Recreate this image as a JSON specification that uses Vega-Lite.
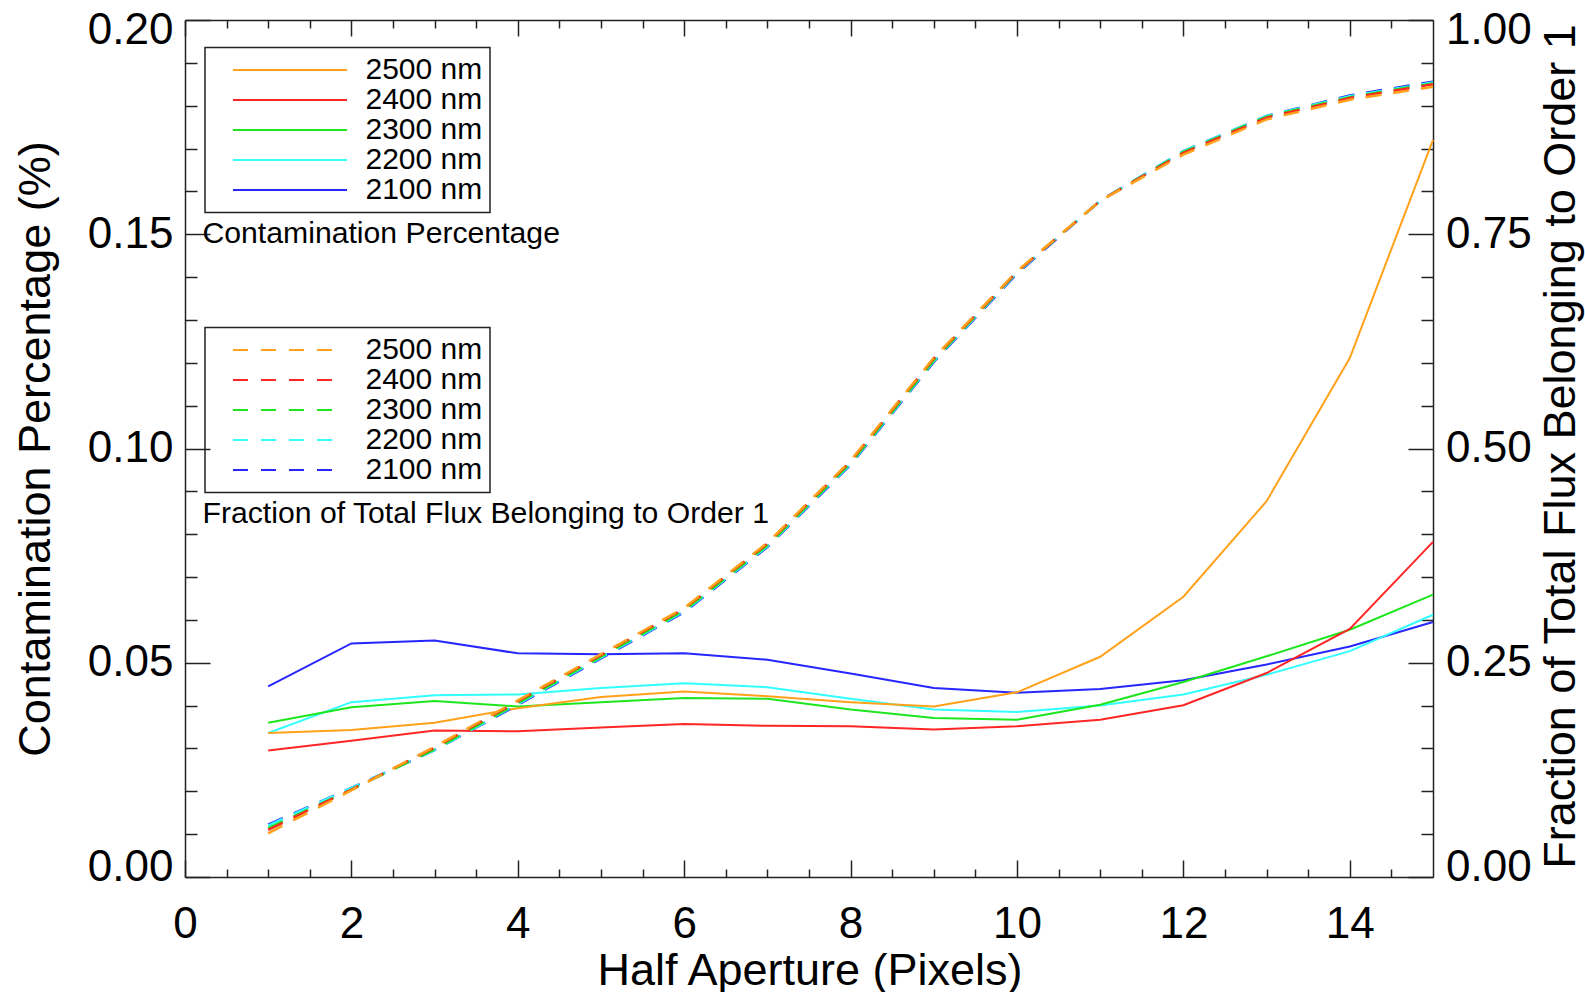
{
  "$schema": "https://vega.github.io/schema/vega-lite/v6.json",
  "width": 1248,
  "height": 857,
  "autosize": {"type": "none"},
  "padding": {"left": 185, "top": 20, "right": 152, "bottom": 115},
  "background": "white",
  "config": {
    "view": {"stroke": null},
    "axis": {
      "grid": false,
      "domainColor": "#222",
      "domainWidth": 1.5,
      "tickColor": "#222",
      "tickWidth": 1.5,
      "labelFont": "Liberation Sans",
      "titleFont": "Liberation Sans",
      "labelColor": "#000",
      "titleColor": "#000",
      "titleFontWeight": "normal",
      "labelFontSize": 44,
      "titleFontSize": 45,
      "labelOverlap": false
    },
    "legend": {"strokeWidth": 1.5}
  },
  "data": {
    "values": [
      {"aperture": 1, "wavelength": "2100 nm", "contamination": 0.0445, "fraction": 0.061},
      {"aperture": 2, "wavelength": "2100 nm", "contamination": 0.0545, "fraction": 0.104},
      {"aperture": 3, "wavelength": "2100 nm", "contamination": 0.0552, "fraction": 0.148},
      {"aperture": 4, "wavelength": "2100 nm", "contamination": 0.0522, "fraction": 0.201},
      {"aperture": 5, "wavelength": "2100 nm", "contamination": 0.0520, "fraction": 0.255},
      {"aperture": 6, "wavelength": "2100 nm", "contamination": 0.0522, "fraction": 0.309},
      {"aperture": 7, "wavelength": "2100 nm", "contamination": 0.0507, "fraction": 0.385},
      {"aperture": 8, "wavelength": "2100 nm", "contamination": 0.0475, "fraction": 0.481},
      {"aperture": 9, "wavelength": "2100 nm", "contamination": 0.0441, "fraction": 0.601},
      {"aperture": 10, "wavelength": "2100 nm", "contamination": 0.0430, "fraction": 0.704},
      {"aperture": 11, "wavelength": "2100 nm", "contamination": 0.0439, "fraction": 0.789},
      {"aperture": 12, "wavelength": "2100 nm", "contamination": 0.0459, "fraction": 0.847},
      {"aperture": 13, "wavelength": "2100 nm", "contamination": 0.0496, "fraction": 0.888},
      {"aperture": 14, "wavelength": "2100 nm", "contamination": 0.0538, "fraction": 0.912},
      {"aperture": 15, "wavelength": "2100 nm", "contamination": 0.0595, "fraction": 0.928},
      {"aperture": 1, "wavelength": "2200 nm", "contamination": 0.0336, "fraction": 0.060},
      {"aperture": 2, "wavelength": "2200 nm", "contamination": 0.0408, "fraction": 0.104},
      {"aperture": 3, "wavelength": "2200 nm", "contamination": 0.0424, "fraction": 0.148},
      {"aperture": 4, "wavelength": "2200 nm", "contamination": 0.0426, "fraction": 0.202},
      {"aperture": 5, "wavelength": "2200 nm", "contamination": 0.0441, "fraction": 0.256},
      {"aperture": 6, "wavelength": "2200 nm", "contamination": 0.0452, "fraction": 0.310},
      {"aperture": 7, "wavelength": "2200 nm", "contamination": 0.0443, "fraction": 0.386},
      {"aperture": 8, "wavelength": "2200 nm", "contamination": 0.0416, "fraction": 0.482},
      {"aperture": 9, "wavelength": "2200 nm", "contamination": 0.0391, "fraction": 0.602},
      {"aperture": 10, "wavelength": "2200 nm", "contamination": 0.0385, "fraction": 0.705},
      {"aperture": 11, "wavelength": "2200 nm", "contamination": 0.0400, "fraction": 0.789},
      {"aperture": 12, "wavelength": "2200 nm", "contamination": 0.0426, "fraction": 0.847},
      {"aperture": 13, "wavelength": "2200 nm", "contamination": 0.0472, "fraction": 0.888},
      {"aperture": 14, "wavelength": "2200 nm", "contamination": 0.0527, "fraction": 0.911},
      {"aperture": 15, "wavelength": "2200 nm", "contamination": 0.0612, "fraction": 0.927},
      {"aperture": 1, "wavelength": "2300 nm", "contamination": 0.0360, "fraction": 0.057},
      {"aperture": 2, "wavelength": "2300 nm", "contamination": 0.0396, "fraction": 0.102},
      {"aperture": 3, "wavelength": "2300 nm", "contamination": 0.0411, "fraction": 0.149},
      {"aperture": 4, "wavelength": "2300 nm", "contamination": 0.0398, "fraction": 0.203},
      {"aperture": 5, "wavelength": "2300 nm", "contamination": 0.0408, "fraction": 0.257},
      {"aperture": 6, "wavelength": "2300 nm", "contamination": 0.0418, "fraction": 0.311},
      {"aperture": 7, "wavelength": "2300 nm", "contamination": 0.0416, "fraction": 0.387},
      {"aperture": 8, "wavelength": "2300 nm", "contamination": 0.0391, "fraction": 0.483},
      {"aperture": 9, "wavelength": "2300 nm", "contamination": 0.0371, "fraction": 0.603},
      {"aperture": 10, "wavelength": "2300 nm", "contamination": 0.0367, "fraction": 0.706},
      {"aperture": 11, "wavelength": "2300 nm", "contamination": 0.0402, "fraction": 0.789},
      {"aperture": 12, "wavelength": "2300 nm", "contamination": 0.0455, "fraction": 0.846},
      {"aperture": 13, "wavelength": "2300 nm", "contamination": 0.0515, "fraction": 0.887},
      {"aperture": 14, "wavelength": "2300 nm", "contamination": 0.0577, "fraction": 0.910},
      {"aperture": 15, "wavelength": "2300 nm", "contamination": 0.0659, "fraction": 0.926},
      {"aperture": 1, "wavelength": "2400 nm", "contamination": 0.0295, "fraction": 0.055},
      {"aperture": 2, "wavelength": "2400 nm", "contamination": 0.0318, "fraction": 0.102},
      {"aperture": 3, "wavelength": "2400 nm", "contamination": 0.0342, "fraction": 0.151},
      {"aperture": 4, "wavelength": "2400 nm", "contamination": 0.0340, "fraction": 0.205},
      {"aperture": 5, "wavelength": "2400 nm", "contamination": 0.0349, "fraction": 0.259},
      {"aperture": 6, "wavelength": "2400 nm", "contamination": 0.0357, "fraction": 0.313},
      {"aperture": 7, "wavelength": "2400 nm", "contamination": 0.0353, "fraction": 0.389},
      {"aperture": 8, "wavelength": "2400 nm", "contamination": 0.0352, "fraction": 0.485},
      {"aperture": 9, "wavelength": "2400 nm", "contamination": 0.0344, "fraction": 0.605},
      {"aperture": 10, "wavelength": "2400 nm", "contamination": 0.0352, "fraction": 0.706},
      {"aperture": 11, "wavelength": "2400 nm", "contamination": 0.0367, "fraction": 0.789},
      {"aperture": 12, "wavelength": "2400 nm", "contamination": 0.0401, "fraction": 0.845},
      {"aperture": 13, "wavelength": "2400 nm", "contamination": 0.0476, "fraction": 0.886},
      {"aperture": 14, "wavelength": "2400 nm", "contamination": 0.0579, "fraction": 0.909},
      {"aperture": 15, "wavelength": "2400 nm", "contamination": 0.0782, "fraction": 0.925},
      {"aperture": 1, "wavelength": "2500 nm", "contamination": 0.0336, "fraction": 0.051},
      {"aperture": 2, "wavelength": "2500 nm", "contamination": 0.0343, "fraction": 0.101},
      {"aperture": 3, "wavelength": "2500 nm", "contamination": 0.0360, "fraction": 0.152},
      {"aperture": 4, "wavelength": "2500 nm", "contamination": 0.0394, "fraction": 0.206},
      {"aperture": 5, "wavelength": "2500 nm", "contamination": 0.0420, "fraction": 0.260},
      {"aperture": 6, "wavelength": "2500 nm", "contamination": 0.0433, "fraction": 0.314},
      {"aperture": 7, "wavelength": "2500 nm", "contamination": 0.0422, "fraction": 0.390},
      {"aperture": 8, "wavelength": "2500 nm", "contamination": 0.0408, "fraction": 0.486},
      {"aperture": 9, "wavelength": "2500 nm", "contamination": 0.0398, "fraction": 0.606},
      {"aperture": 10, "wavelength": "2500 nm", "contamination": 0.0431, "fraction": 0.707},
      {"aperture": 11, "wavelength": "2500 nm", "contamination": 0.0514, "fraction": 0.789},
      {"aperture": 12, "wavelength": "2500 nm", "contamination": 0.0654, "fraction": 0.843},
      {"aperture": 13, "wavelength": "2500 nm", "contamination": 0.0877, "fraction": 0.884},
      {"aperture": 14, "wavelength": "2500 nm", "contamination": 0.1211, "fraction": 0.907},
      {"aperture": 15, "wavelength": "2500 nm", "contamination": 0.1720, "fraction": 0.922}
    ]
  },
  "layer": [
    {
      "mark": {"type": "line", "strokeWidth": 2},
      "encoding": {
        "x": {
          "field": "aperture", "type": "quantitative",
          "scale": {"domain": [0, 15], "nice": false, "zero": false},
          "axis": {
            "orient": "bottom",
            "values": [0, 2, 4, 6, 8, 10, 12, 14],
            "format": "d",
            "tickSize": -17,
            "labelPadding": 77,
            "labelBaseline": "alphabetic",
            "labelAlign": "center",
            "labelFlush": false,
            "title": "Half Aperture (Pixels)",
            "titleX": 624.5,
            "titleY": 107,
            "titleAlign": "center",
            "titleBaseline": "alphabetic",
            "titleAngle": 0
          }
        },
        "y": {
          "field": "contamination", "type": "quantitative",
          "scale": {"domain": [0, 0.2], "nice": false, "zero": false},
          "axis": {
            "orient": "left",
            "values": [0, 0.05, 0.1, 0.15, 0.2],
            "format": ".2f",
            "tickSize": -25,
            "labelPadding": 37,
            "labelAlign": "right",
            "labelFlush": true,
            "labelFlushOffset": 12,
            "title": "Contamination Percentage (%)",
            "titleX": -150,
            "titleY": 428.5,
            "titleAngle": 270,
            "titleAlign": "center",
            "titleBaseline": "middle"
          }
        },
        "color": {
          "field": "wavelength", "type": "nominal",
          "scale": {
            "domain": ["2500 nm", "2400 nm", "2300 nm", "2200 nm", "2100 nm"],
            "range": ["#FFA11A", "#FF2626", "#1EE61E", "#33FFFF", "#2626FF"]
          },
          "legend": {
            "orient": "none",
            "legendX": 20,
            "legendY": 27.5,
            "title": null,
            "strokeColor": "#222",
            "padding": 7.5,
            "symbolType": "M0,0H20",
            "symbolSize": 130,
            "symbolStrokeWidth": 2,
            "symbolOffset": 5.5,
            "labelOffset": 117.5,
            "labelFont": "Liberation Sans",
            "labelFontSize": 30,
            "labelColor": "#000",
            "rowPadding": -1.2
          }
        }
      }
    },
    {
      "mark": {"type": "line", "strokeWidth": 2.5, "strokeDash": [16, 12]},
      "encoding": {
        "x": {
          "field": "aperture", "type": "quantitative",
          "scale": {"domain": [0, 15], "nice": false, "zero": false},
          "axis": {
            "orient": "top",
            "values": [0, 2, 4, 6, 8, 10, 12, 14],
            "tickSize": -16,
            "labels": false,
            "title": null
          }
        },
        "y": {
          "field": "fraction", "type": "quantitative",
          "scale": {"domain": [0, 1], "nice": false, "zero": false},
          "axis": {
            "orient": "right",
            "values": [0, 0.25, 0.5, 0.75, 1],
            "format": ".2f",
            "tickSize": -25,
            "labelPadding": 37.5,
            "labelAlign": "left",
            "labelFlush": true,
            "labelFlushOffset": 12,
            "title": "Fraction of Total Flux Belonging to Order 1",
            "titleX": 127,
            "titleY": 426,
            "titleAngle": 270,
            "titleAlign": "center",
            "titleBaseline": "middle"
          }
        },
        "color": {
          "field": "wavelength", "type": "nominal",
          "scale": {
            "domain": ["2500 nm", "2400 nm", "2300 nm", "2200 nm", "2100 nm"],
            "range": ["#FFA11A", "#FF2626", "#1EE61E", "#33FFFF", "#2626FF"]
          },
          "legend": {
            "orient": "none",
            "legendX": 20,
            "legendY": 307.5,
            "title": null,
            "strokeColor": "#222",
            "padding": 7.5,
            "symbolType": "M0,0H20",
            "symbolSize": 98,
            "symbolStrokeWidth": 2,
            "symbolDash": [15, 13],
            "symbolOffset": 5.5,
            "labelOffset": 117.5,
            "labelFont": "Liberation Sans",
            "labelFontSize": 30,
            "labelColor": "#000",
            "rowPadding": -1.2
          }
        }
      }
    },
    {
      "mark": {"type": "line", "opacity": 0},
      "encoding": {
        "x": {
          "field": "aperture", "type": "quantitative",
          "scale": {"domain": [0, 15], "nice": false, "zero": false},
          "axis": {
            "orient": "bottom",
            "values": [0.5, 1, 1.5, 2.5, 3, 3.5, 4.5, 5, 5.5, 6.5, 7, 7.5, 8.5, 9, 9.5, 10.5, 11, 11.5, 12.5, 13, 13.5, 14.5],
            "tickSize": -8,
            "labels": false,
            "domain": false,
            "title": null
          }
        },
        "y": {
          "field": "contamination", "type": "quantitative",
          "scale": {"domain": [0, 0.2], "nice": false, "zero": false},
          "axis": {
            "orient": "left",
            "values": [0.01, 0.02, 0.03, 0.04, 0.06, 0.07, 0.08, 0.09, 0.11, 0.12, 0.13, 0.14, 0.16, 0.17, 0.18, 0.19],
            "tickSize": -12,
            "labels": false,
            "domain": false,
            "title": null
          }
        },
        "detail": {"field": "wavelength", "type": "nominal"}
      }
    },
    {
      "mark": {"type": "line", "opacity": 0},
      "encoding": {
        "x": {
          "field": "aperture", "type": "quantitative",
          "scale": {"domain": [0, 15], "nice": false, "zero": false},
          "axis": {
            "orient": "top",
            "values": [0.5, 1, 1.5, 2.5, 3, 3.5, 4.5, 5, 5.5, 6.5, 7, 7.5, 8.5, 9, 9.5, 10.5, 11, 11.5, 12.5, 13, 13.5, 14.5],
            "tickSize": -8,
            "labels": false,
            "domain": false,
            "title": null
          }
        },
        "y": {
          "field": "fraction", "type": "quantitative",
          "scale": {"domain": [0, 1], "nice": false, "zero": false},
          "axis": {
            "orient": "right",
            "values": [0.05, 0.1, 0.15, 0.2, 0.3, 0.35, 0.4, 0.45, 0.55, 0.6, 0.65, 0.7, 0.8, 0.85, 0.9, 0.95],
            "tickSize": -12,
            "labels": false,
            "domain": false,
            "title": null
          }
        },
        "detail": {"field": "wavelength", "type": "nominal"}
      }
    },
    {
      "data": {"values": [{"label": "Contamination Percentage"}]},
      "mark": {"type": "text", "align": "left", "baseline": "middle", "font": "Liberation Sans", "fontSize": 30.2, "color": "#000"},
      "encoding": {
        "x": {"datum": 0.21, "type": "quantitative", "scale": {"domain": [0, 15], "nice": false, "zero": false}, "axis": null},
        "y": {"datum": 0.15, "type": "quantitative", "scale": {"domain": [0, 0.2], "nice": false, "zero": false}, "axis": null},
        "text": {"field": "label", "type": "nominal"}
      }
    },
    {
      "data": {"values": [{"label": "Fraction of Total Flux Belonging to Order 1"}]},
      "mark": {"type": "text", "align": "left", "baseline": "middle", "font": "Liberation Sans", "fontSize": 30.2, "color": "#000"},
      "encoding": {
        "x": {"datum": 0.21, "type": "quantitative", "scale": {"domain": [0, 15], "nice": false, "zero": false}, "axis": null},
        "y": {"datum": 0.0847, "type": "quantitative", "scale": {"domain": [0, 0.2], "nice": false, "zero": false}, "axis": null},
        "text": {"field": "label", "type": "nominal"}
      }
    }
  ],
  "resolve": {
    "scale": {"y": "independent", "color": "independent"},
    "axis": {"x": "independent", "y": "independent"}
  }
}
